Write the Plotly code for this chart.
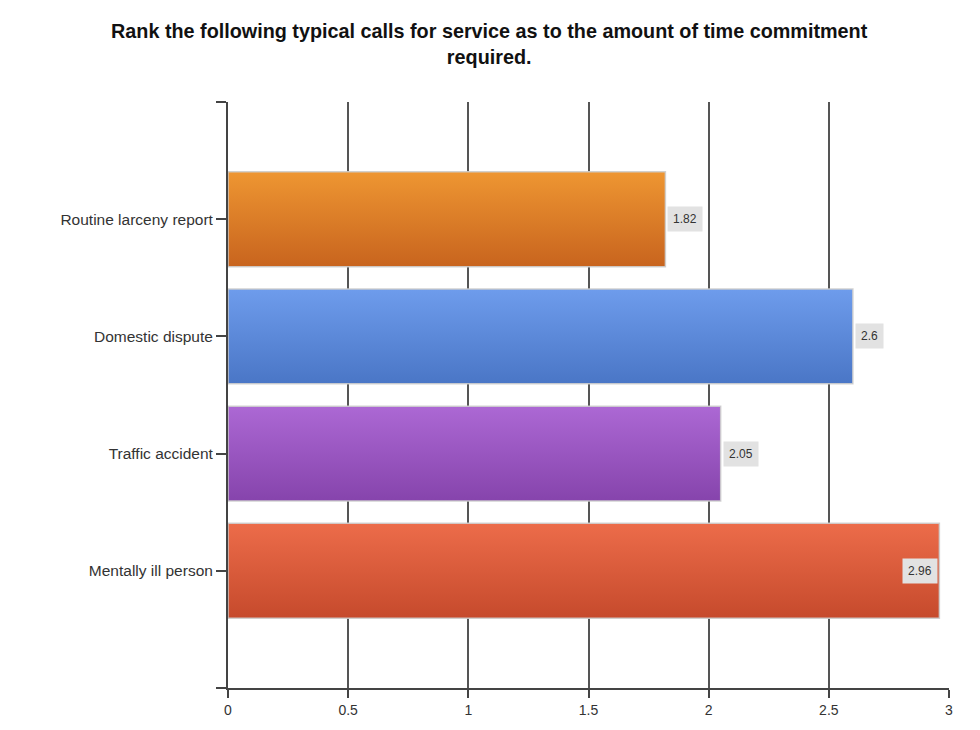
import plotly.graph_objects as go

title_text = "Rank the following typical calls for service as to the amount of time commitment<br>required."
categories = ["Routine larceny report", "Domestic dispute", "Traffic accident", "Mentally ill person"]
values = [1.82, 2.6, 2.05, 2.96]
value_labels = ["1.82", "2.6", "2.05", "2.96"]
x_ticks = [0, 0.5, 1, 1.5, 2, 2.5, 3]
x_tick_labels = ["0", "0.5", "1", "1.5", "2", "2.5", "3"]
top_colors = ["#EE9632", "#6E9CEC", "#AC68D4", "#EC6C4A"]
bottom_colors = ["#C8641E", "#4A76C6", "#8644AC", "#C64A2C"]

FONT = "Liberation Sans, Arial, sans-serif"
n = len(categories)
half = 0.405
fig = go.Figure()
for i, (cat, v) in enumerate(zip(categories, values)):
    pos = n - 1 - i
    fig.add_trace(go.Scatter(
        x=[0, v, v, 0, 0],
        y=[pos - half, pos - half, pos + half, pos + half, pos - half],
        mode="lines",
        line=dict(color="rgba(205,205,205,0.9)", width=1.5),
        fill="toself",
        fillgradient=dict(type="vertical",
                          colorscale=[[0, bottom_colors[i]], [1, top_colors[i]]],
                          start=pos - half, stop=pos + half),
        name=cat, showlegend=False, hoverinfo="text", text=f"{cat}: {v}",
    ))

annotations = []
for i, (v, lab) in enumerate(zip(values, value_labels)):
    pos = n - 1 - i
    inside = v > 2.9
    annotations.append(dict(
        x=v, y=pos, xref="x", yref="y", text=lab, showarrow=False,
        xanchor="right" if inside else "left", xshift=-1 if inside else 2,
        bgcolor="#E2E2E2", borderpad=5,
        font=dict(family=FONT, size=12, color="#333333"),
    ))

ytickvals = [n] + [n - 1 - i for i in range(n)] + [-1]
yticktext = [""] + categories + [""]

fig.update_layout(
    width=980, height=730,
    paper_bgcolor="white", plot_bgcolor="white",
    margin=dict(l=220, r=39, t=94, b=50),
    title=dict(text=title_text, x=0.491, xanchor="center", y=0.959, yanchor="top",
               font=dict(family=FONT, size=19.8, color="#111111", weight="bold")),
    font=dict(family=FONT, size=12, color="#333333"),
    annotations=annotations,
    xaxis=dict(range=[0, 3], tickvals=x_ticks, ticktext=x_tick_labels,
               showgrid=True, gridcolor="#555555", gridwidth=2,
               showline=True, linecolor="#444444", linewidth=2,
               ticks="outside", ticklen=8, tickcolor="#444444", tickwidth=1.5,
               zeroline=False, fixedrange=True,
               tickfont=dict(size=14, color="#333333")),
    yaxis=dict(range=[-1, n], tickvals=ytickvals, ticktext=yticktext,
               showgrid=False, showline=True, linecolor="#444444", linewidth=2,
               ticks="outside", ticklen=10, tickcolor="#444444", tickwidth=1.5,
               zeroline=False, fixedrange=True,
               tickfont=dict(size=15.5, color="#333333")),
)

fig.write_html("out.html")
